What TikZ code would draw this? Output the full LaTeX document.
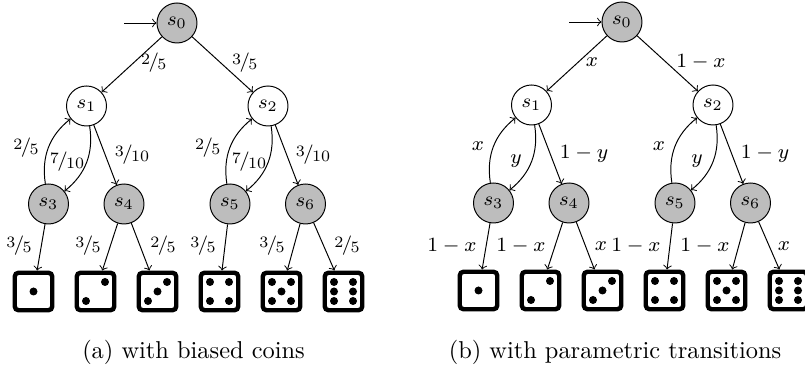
\RequirePackage{fix-cm}
\documentclass[tikz,border=0pt]{standalone}
\definecolor{stategray}{HTML}{BDBDBD}
\newcommand{\fr}[2]{\raisebox{.42ex}{\fontsize{6.5}{8}\selectfont #1}\kern-.08em{\fontsize{8}{9}\selectfont /}\kern-.08em\raisebox{-.2ex}{\fontsize{6.5}{8}\selectfont #2}}
\tikzset{
  state/.style={circle,draw,line width=.4pt,minimum size=16.4pt,inner sep=0pt,font=\fontsize{8}{10}\selectfont},
  grayst/.style={state,fill=stategray},
  whitest/.style={state,fill=white},
  diebox/.style={rectangle,draw=black,line width=1.8pt,rounded corners=1.6pt,minimum size=15.4pt,inner sep=0pt},
  edge/.style={-to,line width=.4pt},
  lab/.style={inner sep=0pt,font=\fontsize{8.3}{10}\selectfont},
  capt/.style={inner sep=0pt,font=\normalsize}
}
\newcommand{\dietile}[4]{%
  \node[diebox] (#1) at (#2,#3) {};
  \foreach \px/\py in {#4} \fill[black] (#1.center) ++(\px,\py) circle[radius=4];
}
\newcommand{\treepart}[1]{%
  \node[grayst] (#1s0) at (177,23) {$s_0$};
  \node[whitest] (#1s1) at (86.5,106) {$s_1$};
  \node[whitest] (#1s2) at (268,106) {$s_2$};
  \node[grayst] (#1s3) at (48.5,204) {$s_3$};
  \node[grayst] (#1s4) at (124,204) {$s_4$};
  \node[grayst] (#1s5) at (230,204) {$s_5$};
  \node[grayst] (#1s6) at (305.5,204) {$s_6$};
  \coordinate (#1in) at (124,23);
  \dietile{#1d1}{33.5}{291.5}{0/0}
  \dietile{#1d2}{95.5}{291.5}{-9.5/9.5,9.5/-9.5}
  \dietile{#1d3}{157.5}{291.5}{-9.5/9.5,0/0,9.5/-9.5}
  \dietile{#1d4}{219.5}{291.5}{-9.5/9.5,9.5/9.5,-9.5/-9.5,9.5/-9.5}
  \dietile{#1d5}{281.5}{291.5}{-9.5/9.5,9.5/9.5,0/0,-9.5/-9.5,9.5/-9.5}
  \dietile{#1d6}{343.5}{291.5}{-9.5/9.5,9.5/9.5,-9.5/0,9.5/0,-9.5/-9.5,9.5/-9.5}
  \draw[edge] (#1in) -- (#1s0);
  \draw[edge] (#1s0) -- (#1s1);
  \draw[edge] (#1s0) -- (#1s2);
  \draw[edge] (#1s3) to[bend left=30] (#1s1);
  \draw[edge] (#1s1) to[bend left=30] (#1s3);
  \draw[edge] (#1s1) -- (#1s4);
  \draw[edge] (#1s5) to[bend left=30] (#1s2);
  \draw[edge] (#1s2) to[bend left=30] (#1s5);
  \draw[edge] (#1s2) -- (#1s6);
  \draw[edge] (#1s3) -- (#1d1);
  \draw[edge] (#1s4) -- (#1d2);
  \draw[edge] (#1s4) -- (#1d3);
  \draw[edge] (#1s5) -- (#1d4);
  \draw[edge] (#1s6) -- (#1d5);
  \draw[edge] (#1s6) -- (#1d6);
}
\begin{document}
\begin{tikzpicture}[x=.41pt,y=-.41pt]
\useasboundingbox (0,0) rectangle (805,370);
\begin{scope}
\treepart{a}
\end{scope}
\begin{scope}[shift={(445,-1)}]
\treepart{b}
\end{scope}
% labels (a)
\node[lab] (la1) at (153.7,63) {\fr25};
\node[lab] (la2) at (244.7,63) {\fr35};
\node[lab] (la3) at (26,148) {\fr25};
\node[lab] (la4) at (67,162) {\fr7{10}};
\node[lab] (la5) at (132,155) {\fr3{10}};
\node[lab] (la6) at (207.7,148) {\fr25};
\node[lab] (la7) at (249,162) {\fr7{10}};
\node[lab] (la8) at (313,155) {\fr3{10}};
\node[lab] (la9) at (19,246) {\fr35};
\node[lab] (la10) at (88,246) {\fr35};
\node[lab] (la11) at (163,246) {\fr25};
\node[lab] (la12) at (203,246) {\fr35};
\node[lab] (la13) at (272,246) {\fr35};
\node[lab] (la14) at (347,246) {\fr25};
% labels (b)
\node[lab] (lb1) at (592,62) {$x$};
\node[lab] (lb2) at (701,62) {$1-x$};
\node[lab] (lb3) at (478,146) {$x$};
\node[lab] (lb4) at (516,161) {$y$};
\node[lab] (lb5) at (584,154) {$1-y$};
\node[lab] (lb6) at (659,146) {$x$};
\node[lab] (lb7) at (697,161) {$y$};
\node[lab] (lb8) at (765,154) {$1-y$};
\node[lab] (lb9) at (452,246) {$1-x$};
\node[lab] (lb10) at (521,246) {$1-x$};
\node[lab] (lb11) at (601,246) {$x$};
\node[lab] (lb12) at (636,246) {$1-x$};
\node[lab] (lb13) at (705,246) {$1-x$};
\node[lab] (lb14) at (784,246) {$x$};
% captions
\node[capt] (capa) at (193.5,352) {(a) with biased coins};
\node[capt] (capb) at (615,352) {(b) with parametric transitions};
\end{tikzpicture}
\end{document}
